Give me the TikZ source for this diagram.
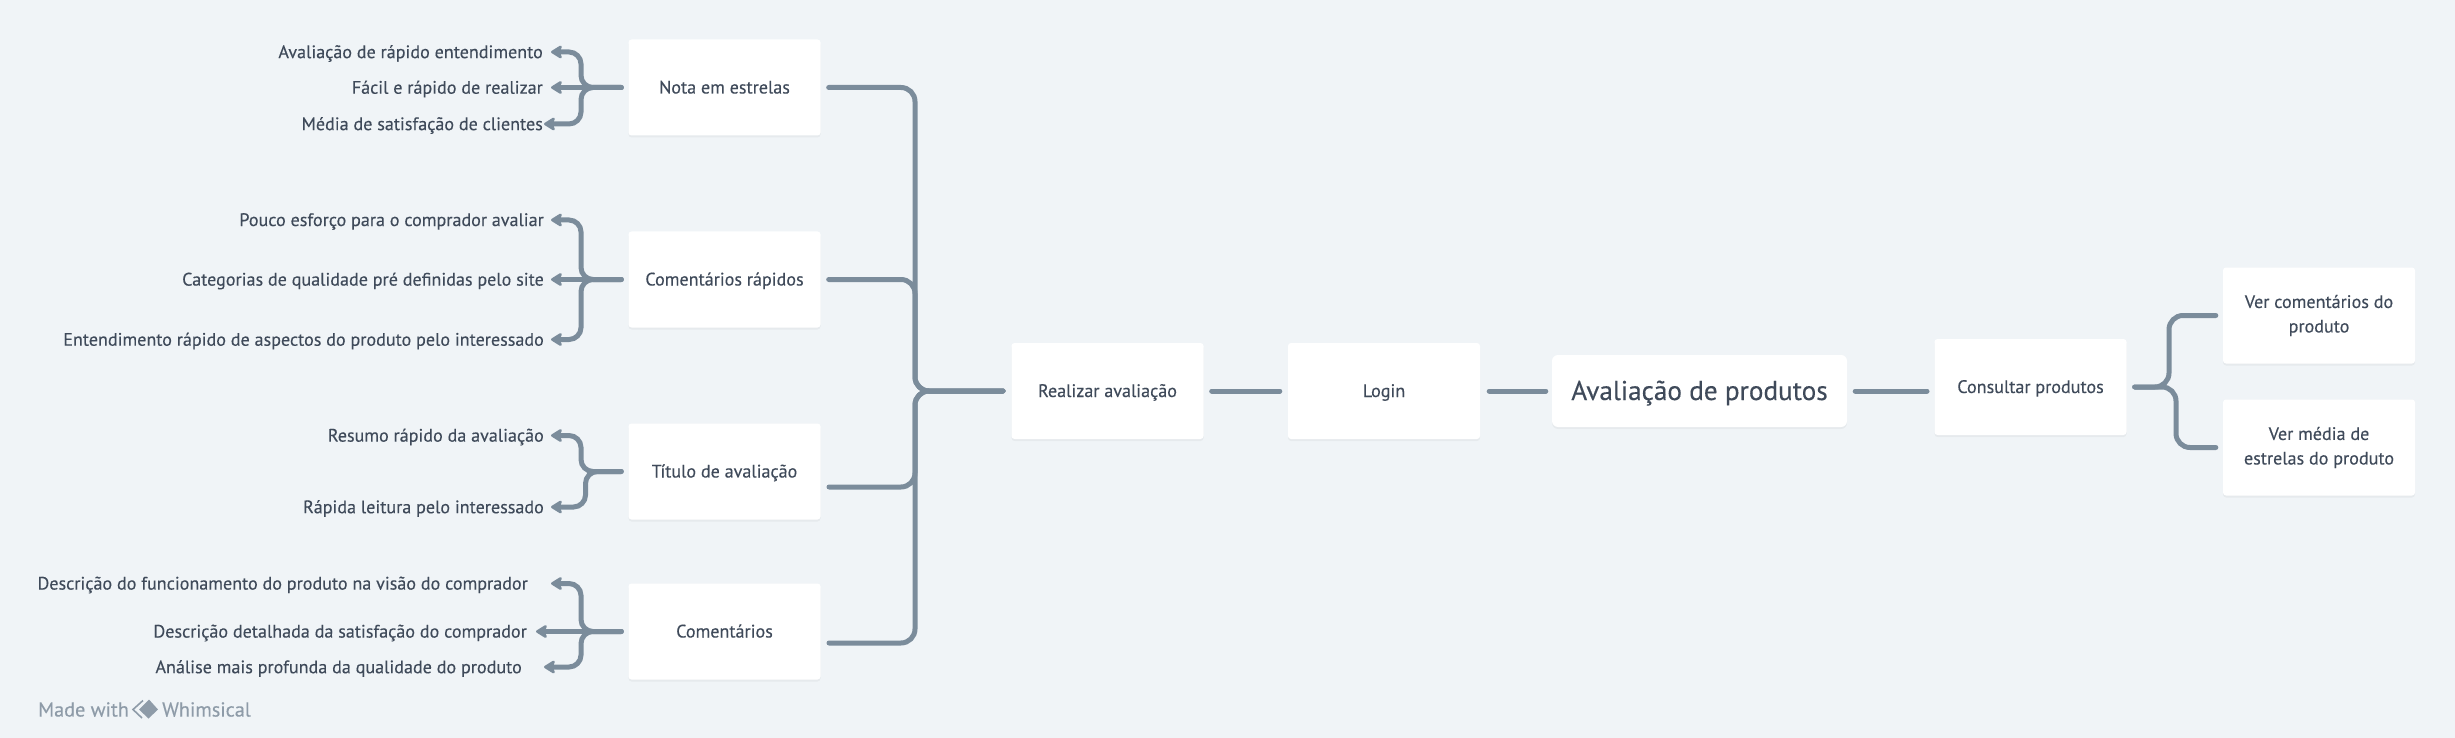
\documentclass[tikz,border=0pt]{standalone}
\usepackage{fontspec}
\setmainfont[FakeBold=0.25]{PT Sans}
\usetikzlibrary{arrows.meta,calc}
\definecolor{bgc}{HTML}{F0F4F7}
\definecolor{linec}{HTML}{7B8C9B}
\definecolor{txtc}{HTML}{3F4A5A}
\definecolor{wmk}{HTML}{8E9BA8}
\tikzset{
  x=1pt,y=-1pt,
  boxn/.style={draw=none,fill=white,rounded corners=3pt,minimum width=192pt,minimum height=96pt,inner sep=0pt,align=center,text=txtc,font=\fontsize{18.1}{24.5}\selectfont,
    preaction={fill=black,opacity=0.04,transform canvas={yshift=-2pt}}},
  oneline/.style={boxn,text height=14pt,text depth=2pt},
  mainbox/.style={boxn,rounded corners=6pt,minimum width=295pt,minimum height=72pt,font=\fontsize{27.2}{34}\selectfont,text height=21pt,text depth=3pt},
  lab/.style={anchor=east,inner sep=0pt,text=txtc,font=\fontsize{18.1}{24}\selectfont},
  wire/.style={draw=linec,line width=5pt,rounded corners=14pt,line cap=round},
  farrow/.style={wire,rounded corners=12pt,-{Stealth[length=13pt,width=16pt,round,inset=3pt]}},
  mark text/.style={anchor=west,inner sep=0pt,text=wmk,font=\fontsize{20.2}{24}\selectfont}
}
\begin{document}
\begin{tikzpicture}
\fill[bgc] (0,0) rectangle (2455,738);
\useasboundingbox (0,0) rectangle (2455,738);
% boxes
\node[oneline] (nota) at (724.5,87.5) {Nota em estrelas};
\node[oneline] (rapidos) at (724.5,279.5) {Comentários rápidos};
\node[oneline] (titulo) at (724.5,471.5) {Título de avaliação};
\node[oneline] (coment) at (724.5,631.5) {Comentários};
\node[oneline] (real) at (1107.5,391) {Realizar avaliação};
\node[oneline] (login) at (1384,391) {Login};
\node[mainbox] (main) at (1699.5,391) {Avaliação de produtos};
\node[oneline] (cons) at (2030.5,387) {Consultar produtos};
\node[boxn] (vercom) at (2319,315.5) {Ver comentários do\\produto};
\node[boxn] (vermed) at (2319,447.5) {Ver média de\\estrelas do produto};
% labels
\node[lab] (a1) at (543,53.5) {Avaliação de rápido entendimento};
\node[lab] (a2) at (543,89) {Fácil e rápido de realizar};
\node[lab] (a3) at (543,125.5) {Média de satisfação de clientes};
\node[lab] (b1) at (544,221.5) {Pouco esforço para o comprador avaliar};
\node[lab] (b2) at (544,281) {Categorias de qualidade pré definidas pelo site};
\node[lab] (b3) at (544,341) {Entendimento rápido de aspectos do produto pelo interessado};
\node[lab] (c1) at (544,437) {Resumo rápido da avaliação};
\node[lab] (c2) at (544,508.5) {Rápida leitura pelo interessado};
\node[lab] (d1) at (528,585) {Descrição do funcionamento do produto na visão do comprador};
\node[lab] (d2) at (527,633) {Descrição detalhada da satisfação do comprador};
\node[lab] (d3) at (522,668.5) {Análise mais profunda da qualidade do produto};
% junctions into Realizar
\coordinate (rIn) at (1003,391);
\coordinate (tOut) at (829,487);
\coordinate (cOut) at (829,643);
\draw[wire] ([xshift=8pt]nota.east) -| (915,391) -- (rIn);
\draw[wire] ([xshift=8pt]rapidos.east) -| (915,391) -- (rIn);
\draw[wire] (tOut) -| (915,391) -- (rIn);
\draw[wire] (cOut) -| (915,391) -- (rIn);
% chain
\coordinate (mIn) at (1927,391);
\draw[wire] ([xshift=8pt]real.east) -- ([xshift=-8pt]login.west);
\draw[wire] ([xshift=9pt]login.east) -- ([xshift=-6pt]main.west);
\draw[wire] ([xshift=8pt]main.east) -- (mIn);
% right fan
\draw[wire] ([xshift=8pt]cons.east) -- (2169,387) |- ([xshift=-7pt]vercom.west);
\draw[wire] ([xshift=8pt]cons.east) -- (2176,387) |- ([xshift=-7pt]vermed.west);
% left fans
\coordinate (na1) at (551,52);
\coordinate (na2) at (551,87.5);
\coordinate (na3) at (544,124);
\coordinate (nb1) at (551,220);
\coordinate (nb2) at (551,279.5);
\coordinate (nb3) at (551,339.5);
\coordinate (nc1) at (551,435.5);
\coordinate (nc2) at (551,507);
\coordinate (nd1) at (551,583.5);
\coordinate (nd2) at (536,631.5);
\coordinate (nd3) at (544,667);
\draw[farrow] ([xshift=-7pt]nota.west) -- (581,87.5) |- (na1);
\draw[farrow] ([xshift=-7pt]nota.west) -- (na2);
\draw[farrow] ([xshift=-7pt]nota.west) -- (581,87.5) |- (na3);
\draw[farrow] ([xshift=-7pt]rapidos.west) -- (581,279.5) |- (nb1);
\draw[farrow] ([xshift=-7pt]rapidos.west) -- (nb2);
\draw[farrow] ([xshift=-7pt]rapidos.west) -- (581,279.5) |- (nb3);
\draw[farrow] ([xshift=-7pt]titulo.west) -- (581,471.5) |- (nc1);
\draw[farrow] ([xshift=-7pt]titulo.west) -- (585.5,471.5) |- (nc2);
\draw[farrow] ([xshift=-7pt]coment.west) -- (581,631.5) |- (nd1);
\draw[farrow] ([xshift=-7pt]coment.west) -- (nd2);
\draw[farrow] ([xshift=-7pt]coment.west) -- (581,631.5) |- (nd3);
% watermark
\node[mark text] (mw) at (38,709.5) {Made with};
\fill[wmk] (149,699.5) -- (158,709.5) -- (148.5,718.5) -- (139,709.5) -- cycle;
\draw[wmk,line width=1.6pt] (143,700.5) -- (133,709.5) -- (142,718);
\node[mark text] (ws) at (162,709.5) {Whimsical};
\end{tikzpicture}
\end{document}
